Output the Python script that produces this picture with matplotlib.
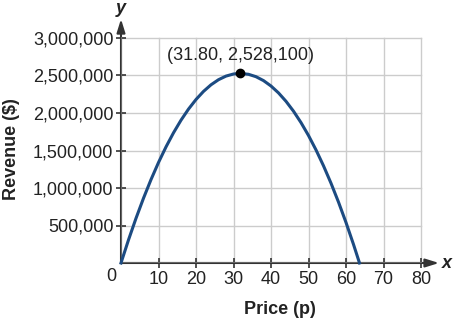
import matplotlib
matplotlib.use("Agg")
import matplotlib.pyplot as plt

price = [0, 2, 4, 6, 8, 10, 12, 14, 16, 18, 20, 22, 24, 26, 28, 30, 31.8,
         34, 36, 38, 40, 42, 44, 46, 48, 50, 52, 54, 56, 58, 60, 62, 63.6]
revenue = [0, 308000, 596000, 864000, 1112000, 1340000, 1548000, 1736000,
           1904000, 2052000, 2180000, 2288000, 2376000, 2444000, 2492000,
           2520000, 2528100, 2516000, 2484000, 2432000, 2360000, 2268000,
           2156000, 2024000, 1872000, 1700000, 1508000, 1296000, 1064000,
           812000, 540000, 248000, 0]
vertex = (31.80, 2528100)
vertex_label = "(31.80, 2,528,100)"
xticks = [10, 20, 30, 40, 50, 60, 70, 80]
yticks = [500000, 1000000, 1500000, 2000000, 2500000, 3000000]
ytick_labels = ["500,000", "1,000,000", "1,500,000", "2,000,000", "2,500,000", "3,000,000"]

plt.rcParams['font.family'] = ['Liberation Sans', 'DejaVu Sans']

fig = plt.figure(figsize=(4.55, 3.21), dpi=100)
ax = fig.add_axes([121/455, 58/321, 324/455, 248/321])
ax.set_xlim(0, 324/3.75)
ax.set_ylim(0, 248/75*1e6)

grid_c = '#cccccc'
for x in xticks:
    ax.plot([x, x], [0, 3000000], color=grid_c, lw=1, zorder=1)
for y in yticks:
    ax.plot([0, 80], [y, y], color=grid_c, lw=1, zorder=1)

axis_c = '#666666'
for s in ax.spines.values():
    s.set_visible(False)
ax.annotate('', xy=(84.8, 0), xytext=(0, 0),
            arrowprops=dict(arrowstyle='-|>,head_length=0.8,head_width=0.25', color='#333333', lw=1.5,
                            shrinkA=0, shrinkB=0), zorder=3, annotation_clip=False)
ax.annotate('', xy=(0, 3253000), xytext=(0, 0),
            arrowprops=dict(arrowstyle='-|>,head_length=0.8,head_width=0.25', color='#333333', lw=1.5,
                            shrinkA=0, shrinkB=0), zorder=3, annotation_clip=False)
ax.plot([0, 80], [0, 0], color=axis_c, lw=1.5, zorder=3)
ax.plot([0, 0], [0, 3000000], color=axis_c, lw=1.5, zorder=3)

ax.set_xticks(xticks)
ax.set_xticklabels([str(v) for v in xticks])
ax.set_yticks(yticks)
ax.set_yticklabels(ytick_labels)
ax.tick_params(direction='inout', length=7, width=1.2, color='#333333',
               labelsize=13, labelcolor='#222222', pad=2)

ax.plot(price, revenue, color='#1c4b82', lw=2.2, zorder=4, clip_on=False)
ax.plot([vertex[0]], [vertex[1]], 'o', color='black', ms=6, zorder=5)
ax.text(vertex[0], vertex[1] + 130000, vertex_label, ha='center', va='bottom',
        fontsize=13, color='#222222')

ax.text(-1.2, -70000, '0', ha='right', va='top', fontsize=13, color='#222222')
ax.text(85.6, 0, 'x', ha='left', va='center', fontsize=13, fontweight='bold',
        style='italic', color='#222222')
ax.text(0, 3390000, 'y', ha='center', va='center', fontsize=13, fontweight='bold',
        style='italic', color='#222222', clip_on=False)

fig.text(280/455, 1 - 309/321, 'Price (p)', ha='center', va='center',
         fontsize=13, fontweight='bold', color='#222222')
fig.text(12/455, 1 - 149/321, 'Revenue ($)', ha='center', va='center',
         rotation=90, fontsize=13, fontweight='bold', color='#222222')

fig.savefig('out.png', dpi=100)
